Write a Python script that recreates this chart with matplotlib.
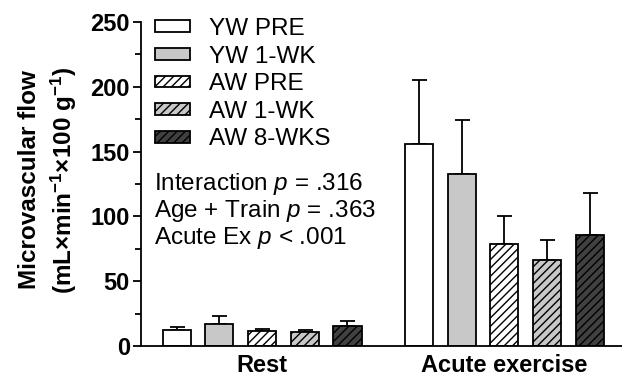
import matplotlib
matplotlib.use("Agg")
import matplotlib.pyplot as plt
import numpy as np

plt.rcParams["font.family"] = ["Liberation Sans", "DejaVu Sans"]
plt.rcParams["mathtext.fontset"] = "custom"
plt.rcParams["mathtext.rm"] = "Liberation Sans"
plt.rcParams["mathtext.it"] = "Liberation Sans:italic"
plt.rcParams["mathtext.bf"] = "Liberation Sans:bold"
plt.rcParams["hatch.linewidth"] = 1.0

groups = ["Rest", "Acute exercise"]
series = ["YW PRE", "YW 1-WK", "AW PRE", "AW 1-WK", "AW 8-WKS"]
rest_mean = [12.7, 17.3, 11.3, 10.6, 15.7]
rest_err = [2.0, 5.9, 1.8, 1.5, 3.3]
acute_mean = [156, 133, 79, 66, 86]
acute_err = [49, 41, 21, 16, 32]

faces = ["white", "#c8c8c8", "white", "#c8c8c8", "#404040"]
hatches = [None, None, "////", "////", "////"]

fig = plt.figure(figsize=(6.22, 3.8), dpi=100)
ax = fig.add_axes([141 / 622, 1 - 346 / 380, 1 - 141 / 622, (346 - 22) / 380])

gap = 5.675
means = np.array([rest_mean, acute_mean])
errs = np.array([rest_err, acute_err])
for i, name in enumerate(series):
    xs = np.array([i, i + gap])
    ax.bar(xs, means[:, i], width=0.66, color=faces[i], edgecolor="black",
           linewidth=1.3, hatch=hatches[i], label=name, zorder=2)
    ax.errorbar(xs, means[:, i], yerr=[np.zeros(2), errs[:, i]], fmt="none",
                ecolor="black", elinewidth=1.3, capsize=5.4, capthick=1.3, zorder=1)

ax.set_xlim(-0.836, 10.43)
ax.set_ylim(0, 250)
ax.set_yticks([0, 50, 100, 150, 200, 250])
ax.set_yticks([25, 75, 125, 175, 225], minor=True)
ax.set_xticks([2, 2 + gap])
ax.set_xticklabels(groups, fontsize=17, fontweight="bold")
ax.tick_params(axis="x", length=0, pad=6)
ax.tick_params(axis="y", which="major", length=6, width=1.3, labelsize=17, pad=2)
ax.tick_params(axis="y", which="minor", length=4, width=1.3)
for lab in ax.get_yticklabels():
    lab.set_fontweight("bold")
ax.spines["top"].set_visible(False)
ax.spines["right"].set_visible(False)
ax.spines["left"].set_linewidth(1.3)
ax.spines["bottom"].set_linewidth(1.3)

fig.text(30 / 622, 1 - 180 / 380, "Microvascular flow", rotation=90,
         ha="center", va="center", fontsize=17.5, fontweight="bold")
fig.text(64 / 622, 1 - 180 / 380,
         r"(mL×min$^{\mathbf{-1}}$×100 g$^{\mathbf{-1}}$)", rotation=90,
         ha="center", va="center", fontsize=17.5, fontweight="bold")

ax.legend(loc="upper left", bbox_to_anchor=(155 / 622, 1 - 18 / 380),
          bbox_transform=fig.transFigure, frameon=False, fontsize=17.5,
          handlelength=1.44, handleheight=0.37, handletextpad=0.78,
          labelspacing=0.23, borderpad=0, borderaxespad=0)

notes = ["Interaction $p$ = .316", "Age + Train $p$ = .363", "Acute Ex $p$ < .001"]
for k, t in enumerate(notes):
    fig.text(154 / 622, 1 - (184 + 27 * k) / 380, t, ha="left", va="center", fontsize=17.5)

fig.savefig("out.png", dpi=100)
